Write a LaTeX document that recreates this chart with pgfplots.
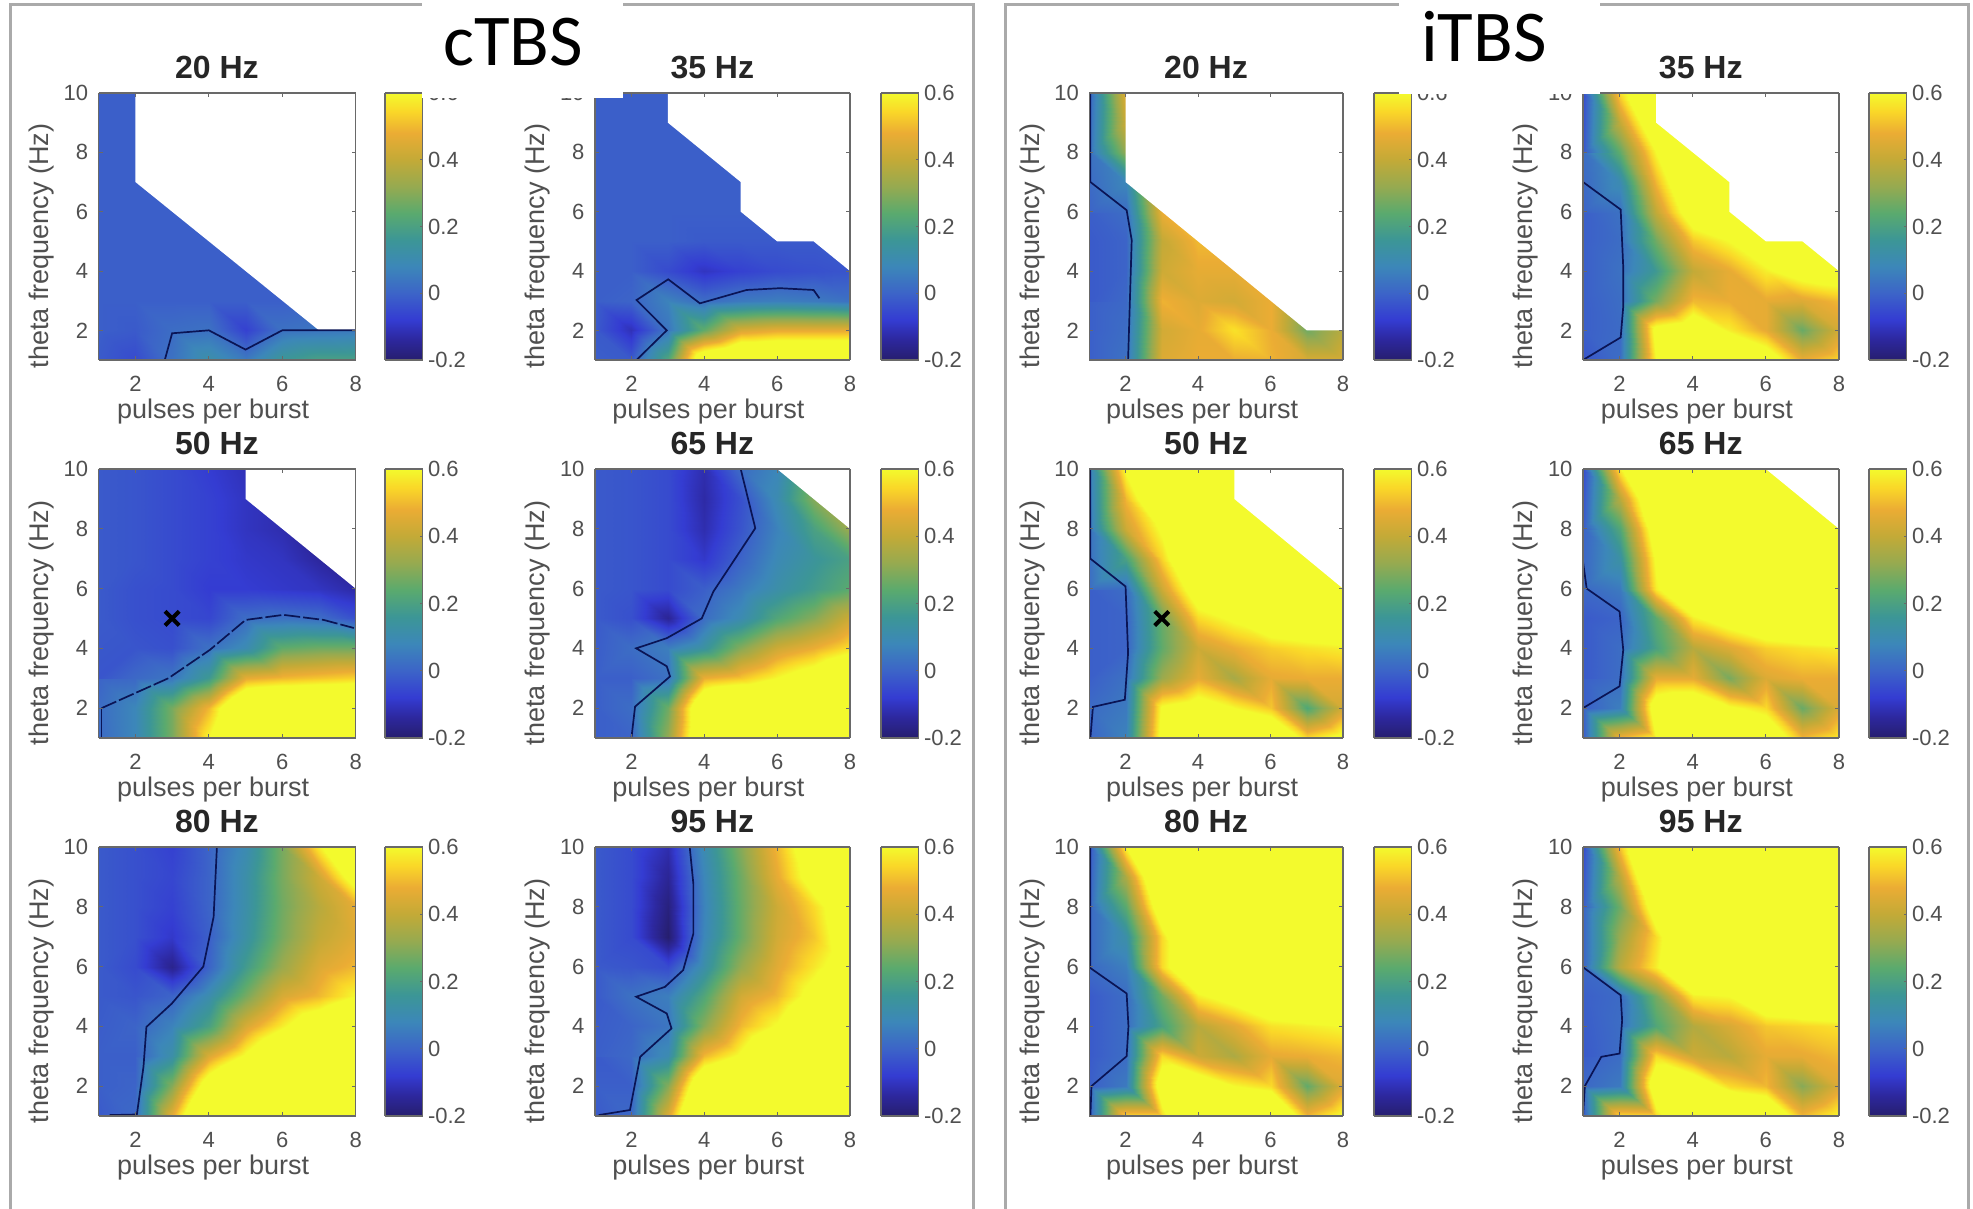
\documentclass[border=0pt]{standalone}
\usepackage{fontspec}
\setmainfont{Liberation Sans}
\newfontfamily\carlito{Carlito}
\usepackage{pgfplots}
\pgfplotsset{compat=1.18}
\definecolor{axgray}{RGB}{105,105,105}
\definecolor{txgray}{RGB}{80,80,80}
\definecolor{framegray}{RGB}{170,170,170}
\definecolor{ctr}{RGB}{10,20,85}
\pgfplotsset{
 /pgf/number format/assume math mode=true,
 colormap={par}{rgb255(0pt)=(38,30,110) rgb255(8pt)=(45,40,160) rgb255(15pt)=(52,60,210) rgb255(25pt)=(60,100,200) rgb255(35pt)=(60,135,185) rgb255(45pt)=(60,150,150) rgb255(55pt)=(90,170,110) rgb255(65pt)=(150,170,80) rgb255(75pt)=(195,170,55) rgb255(85pt)=(235,172,52) rgb255(93pt)=(250,215,40) rgb255(100pt)=(243,250,45) rgb255(150pt)=(243,250,45)},
 tbscommon/.style={
  scale only axis, view={0}{90},
  tick align=inside, tick style={axgray,line width=0.8pt},
  axis line style={axgray,line width=1.2pt}, axis on top,
  tick label style={font=\fontsize{22}{24}\selectfont,text=txgray},
  point meta min=-0.2, point meta max=1.0, colormap name=par,
 },
 tbs/.style={tbscommon,
  xmin=1,xmax=8,ymin=1,ymax=10,zmin=-1,zmax=2,
  xtick={2,4,6,8}, ytick={2,4,6,8,10}, ztick=\empty, major tick length=4pt,
  xticklabel style={yshift=-13pt}, yticklabel style={xshift=-7pt},
  xlabel={pulses per burst}, ylabel={theta frequency (Hz)},
  every axis x label/.style={at={(axis description cs:0.445,0)},anchor=center,yshift=-52pt,font=\fontsize{27}{30}\selectfont,text=txgray},
  every axis y label/.style={at={(axis description cs:0,0.427)},xshift=-57pt,rotate=90,anchor=center,font=\fontsize{27}{30}\selectfont,text=txgray},
  every axis title/.style={at={(axis description cs:0.46,1)},anchor=center,yshift=26pt,font=\fontsize{32}{36}\selectfont\bfseries,text=black!85},
 },
 tbsbar/.style={tbscommon,
  xmin=0,xmax=1,ymin=-0.2,ymax=0.6,zmin=-1,zmax=2,
  xtick=\empty, ytick={-0.2,0,0.2,0.4,0.6}, ztick=\empty, major tick length=3pt,
  ytick pos=right, yticklabel pos=right,
  yticklabel style={/pgf/number format/fixed,/pgf/number format/precision=1,xshift=2pt},
 },
}
% x0, ybottom, width, height, title, grid values y=1..10 / x=1..8, extras, colour bar x
\newcommand{\panel}[8]{%
\begin{axis}[tbs,at={(#1pt,#2pt)},anchor=south west,width=#3pt,height=#4pt,title={#5}]
\addplot3[surf,shader=interp,mesh/rows=10,mesh/cols=8] table[header=false,row sep=\\,x expr={int(mod(\coordindex,8))+1},y expr={int(\coordindex/8)+1},z index=0]{#6};
#7
\end{axis}
\begin{axis}[tbsbar,at={(#8pt,#2pt)},anchor=south west,width=37.5pt,height=#4pt]
\addplot3[surf,shader=interp,mesh/rows=2,mesh/cols=2] coordinates {(0,-0.2,-0.2)(1,-0.2,-0.2)(0,0.6,0.6)(1,0.6,0.6)};
\end{axis}}
\newcommand{\maskp}[1]{\addplot3[draw=none,fill=white,forget plot] coordinates {#1};}
\newcommand{\cont}[1]{\addplot3[ctr,line width=1.7pt,forget plot] coordinates {#1};}
\newcommand{\contd}[1]{\addplot3[ctr,line width=1.7pt,dash pattern=on 16pt off 3pt,forget plot] coordinates {#1};}
\newcommand{\xmk}{\addplot3[only marks,mark=x,mark size=10pt,mark options={line width=4pt,black},black,forget plot] coordinates {(3,5,1)};}
\begin{document}
\begin{tikzpicture}[x=1pt,y=1pt]
\fill[white] (0,0) rectangle (1973,1209);
\useasboundingbox (0,0) rectangle (1973,1209);
\draw[framegray,line width=3pt] (10,0)--(10,1204)--(973,1204)--(973,0);
\draw[framegray,line width=3pt] (1005,0)--(1005,1204)--(1968,1204)--(1968,0);
%%%%% cTBS
\panel{98.7}{849}{257}{267}{20 Hz}{%
-.02\\-.05\\.03\\.12\\.05\\.16\\.2\\.2\\
-.01\\-.02\\.02\\.03\\-.07\\.03\\.04\\.05\\
-.01\\-.01\\-.01\\-.01\\-.01\\-.01\\-.01\\-.01\\
-.01\\-.01\\-.01\\-.01\\-.01\\-.01\\-.01\\-.01\\
-.01\\-.01\\-.01\\-.01\\-.01\\-.01\\-.01\\-.01\\
-.01\\-.01\\-.01\\-.01\\-.01\\-.01\\-.01\\-.01\\
-.01\\-.01\\-.01\\-.01\\-.01\\-.01\\-.01\\-.01\\
-.01\\-.01\\-.01\\-.01\\-.01\\-.01\\-.01\\-.01\\
-.01\\-.01\\-.01\\-.01\\-.01\\-.01\\-.01\\-.01\\
-.01\\-.01\\-.01\\-.01\\-.01\\-.01\\-.01\\-.01\\
}{\maskp{(2,10,1)(2,7,1)(7,2,1)(8,2,1)(8,10,1)}
\cont{(2.8,1,1)(3,1.9,1)(4,2,1)(5,1.35,1)(6,2,1)(8,2,1)}}{385}
\panel{595}{849}{255}{267}{35 Hz}{%
-.01\\-.02\\.22\\.75\\.85\\.85\\.85\\.85\\
-.02\\-.11\\.04\\.25\\.44\\.47\\.47\\.47\\
-.01\\.0\\.07\\.02\\.05\\.06\\.05\\.03\\
-.01\\-.01\\-.05\\-.1\\-.07\\-.05\\-.04\\-.03\\
-.01\\-.01\\-.01\\-.02\\-.02\\-.02\\-.02\\-.02\\
-.01\\-.01\\-.01\\-.01\\-.01\\-.01\\-.01\\-.01\\
-.01\\-.01\\-.01\\-.01\\-.01\\-.01\\-.01\\-.01\\
-.01\\-.01\\-.01\\-.01\\-.01\\-.01\\-.01\\-.01\\
-.01\\-.01\\-.01\\-.01\\-.01\\-.01\\-.01\\-.01\\
-.01\\-.01\\-.01\\-.01\\-.01\\-.01\\-.01\\-.01\\
}{\maskp{(3,10,1)(3,9,1)(5,7,1)(5,6,1)(6,5,1)(7,5,1)(8,4,1)(8,10,1)}
\cont{(2.14,1,1)(2.97,2,1)(2.14,3.02,1)(3.01,3.72,1)(3.88,2.91,1)(5.16,3.36,1)(6.08,3.42,1)(7,3.36,1)(7.16,3.08,1)}}{881}
\panel{98.7}{471}{257}{269}{50 Hz}{%
.015\\.08\\.28\\.6\\.9\\.9\\.9\\.9\\
.02\\.08\\.28\\.5\\.85\\.9\\.9\\.9\\
.0\\.01\\.04\\.17\\.47\\.5\\.52\\.54\\
-.03\\-.03\\-.04\\.03\\.1\\.25\\.27\\.27\\
-.02\\-.04\\-.05\\-.06\\.02\\.03\\.02\\-.04\\
-.02\\-.04\\-.05\\-.08\\-.08\\-.09\\-.1\\-.13\\
-.02\\-.03\\-.05\\-.07\\-.09\\-.1\\-.14\\-.14\\
-.02\\-.03\\-.05\\-.07\\-.1\\-.12\\-.14\\-.14\\
-.02\\-.03\\-.05\\-.07\\-.1\\-.12\\-.14\\-.14\\
-.02\\-.03\\-.05\\-.08\\-.11\\-.12\\-.14\\-.14\\
}{\maskp{(5,10,1)(5,9,1)(8,6,1)(8,10,1)}
\cont{(1.08,1,1)(1.08,2,1)}
\contd{(1.08,2,1)(2.9,3,1)(4.03,3.95,1)(5,4.95,1)(6.03,5.12,1)(7.13,4.95,1)(7.95,4.68,1)}
\xmk}{385}
\panel{595}{471}{255}{269}{65 Hz}{%
-.01\\.0\\.32\\.8\\.9\\.9\\.9\\.9\\
-.01\\.02\\.27\\.8\\.9\\.9\\.9\\.9\\
-.01\\-.01\\.03\\.48\\.52\\.6\\.68\\.8\\
-.01\\.02\\.06\\.14\\.3\\.42\\.48\\.56\\
-.02\\-.04\\-.15\\.02\\.1\\.22\\.3\\.42\\
-.02\\-.03\\-.05\\-.01\\.05\\.12\\.18\\.24\\
-.02\\-.03\\-.05\\-.09\\.0\\.09\\.15\\.2\\
-.02\\-.03\\-.05\\-.12\\-.03\\.07\\.2\\.33\\
-.02\\-.03\\-.05\\-.13\\-.04\\.1\\.3\\.33\\
-.02\\-.03\\-.05\\-.12\\.02\\.08\\.3\\.33\\
}{\maskp{(6,10,1)(8,8,1)(8,10,1)}
\cont{(2,1,1)(2.1,2.05,1)(3.06,3.06,1)(2.97,3.4,1)(2.13,4,1)(2.97,4.34,1)(3.93,5,1)(4.25,5.9,1)(5.4,8.02,1)(5,10,1)}}{881}
\panel{98.7}{93}{257}{269}{80 Hz}{%
-.02\\.01\\.47\\.9\\.9\\.9\\.9\\.9\\
-.01\\.0\\.3\\.7\\.9\\.9\\.9\\.9\\
-.01\\-.01\\.12\\.45\\.62\\.8\\.9\\.9\\
-.01\\.0\\.07\\.2\\.44\\.58\\.72\\.85\\
-.02\\-.03\\.0\\.11\\.28\\.44\\.5\\.6\\
-.02\\-.05\\-.16\\.0\\.18\\.33\\.45\\.5\\
-.02\\-.04\\-.09\\-.01\\.13\\.28\\.4\\.46\\
-.02\\-.04\\-.07\\.0\\.12\\.27\\.38\\.47\\
-.02\\-.04\\-.06\\.0\\.12\\.28\\.42\\.68\\
-.02\\-.04\\-.07\\.0\\.1\\.28\\.58\\.8\\
}{\cont{(1.3,1.03,1)(2.04,1.05,1)(2.22,2.65,1)(2.3,3.98,1)(2.99,4.76,1)(3.85,6,1)(4.13,7.66,1)(4.22,10,1)}}{385}
\panel{595}{93}{255}{269}{95 Hz}{%
-.02\\.01\\.45\\.95\\.95\\.95\\.95\\.95\\
-.01\\-.01\\.3\\.8\\.9\\.9\\.9\\.9\\
-.02\\.01\\.1\\.5\\.62\\.8\\.9\\.9\\
-.01\\.0\\.04\\.3\\.5\\.61\\.8\\.9\\
-.02\\.03\\.06\\.22\\.43\\.5\\.65\\.8\\
-.02\\-.03\\-.05\\.12\\.32\\.46\\.57\\.68\\
-.02\\-.05\\-.2\\.08\\.26\\.43\\.52\\.7\\
-.02\\-.05\\-.18\\.07\\.26\\.42\\.55\\.72\\
-.02\\-.05\\-.15\\.08\\.27\\.47\\.67\\.8\\
-.02\\-.05\\-.12\\.1\\.3\\.5\\.72\\.85\\
}{\cont{(1.1,1.03,1)(1.96,1.2,1)(2.24,2.98,1)(3.1,3.93,1)(2.97,4.43,1)(2.13,4.99,1)(2.92,5.32,1)(3.42,5.88,1)(3.7,7.1,1)(3.7,8.77,1)(3.6,10,1)}}{881}
%%%%% iTBS
\panel{1089.3}{849}{253.7}{267}{20 Hz}{%
-.01\\.03\\.45\\.48\\.48\\.49\\.44\\.44\\
-.01\\.02\\.43\\.47\\.56\\.48\\.27\\.38\\
-.01\\.01\\.49\\.45\\.43\\.48\\.55\\.5\\
-.02\\.0\\.42\\.47\\.47\\.65\\.55\\.5\\
-.02\\.0\\.4\\.5\\.62\\.65\\.55\\.5\\
-.01\\.02\\.48\\.65\\.65\\.55\\.5\\.5\\
.0\\.08\\.55\\.55\\.5\\.5\\.5\\.5\\
.03\\.32\\.45\\.5\\.5\\.5\\.5\\.5\\
.02\\.42\\.4\\.5\\.5\\.5\\.5\\.5\\
.0\\.46\\.4\\.5\\.5\\.5\\.5\\.5\\
}{\maskp{(2,10,1)(2,7,1)(7,2,1)(8,2,1)(8,10,1)}
\cont{(1.03,10,1)(1.03,7,1)(2.03,6.05,1)(2.17,5.04,1)(2.07,1,1)}}{1374}
\panel{1583}{849}{256}{267}{35 Hz}{%
-.03\\.02\\.6\\.8\\.85\\.7\\.48\\.55\\
-.01\\.015\\.65\\.72\\.58\\.47\\.26\\.43\\
-.01\\.02\\.28\\.5\\.48\\.47\\.45\\.5\\
-.01\\.03\\.17\\.4\\.47\\.58\\.67\\.7\\
-.01\\.02\\.27\\.52\\.6\\.72\\.8\\.8\\
-.01\\.03\\.4\\.7\\.85\\.85\\.85\\.85\\
.0\\.1\\.5\\.8\\.85\\.85\\.85\\.85\\
.02\\.25\\.6\\.85\\.85\\.85\\.85\\.85\\
-.03\\.4\\.75\\.85\\.85\\.85\\.85\\.85\\
-.05\\.55\\.8\\.85\\.85\\.85\\.85\\.85\\
}{\maskp{(3,10,1)(3,9,1)(5,7,1)(5,6,1)(6,5,1)(7,5,1)(8,4,1)(8,10,1)}
\cont{(1,10,1)(1,7,1)(2.03,6.07,1)(2.1,4.13,1)(2.1,2.8,1)(2.03,1.76,1)(1,1,1)}}{1869}
\panel{1089.3}{471}{253.7}{269}{50 Hz}{%
.0\\.07\\.65\\.85\\.9\\.8\\.55\\.65\\
.015\\.05\\.62\\.68\\.6\\.52\\.22\\.43\\
-.01\\.03\\.33\\.47\\.35\\.47\\.48\\.48\\
-.01\\.0\\.25\\.42\\.48\\.53\\.56\\.58\\
-.01\\.0\\.26\\.55\\.62\\.72\\.75\\.8\\
-.01\\.02\\.42\\.7\\.85\\.85\\.85\\.85\\
.02\\.2\\.54\\.85\\.85\\.85\\.85\\.85\\
.03\\.42\\.62\\.9\\.9\\.9\\.9\\.9\\
.03\\.5\\.8\\.9\\.9\\.9\\.9\\.9\\
.05\\.62\\.85\\.9\\.9\\.9\\.9\\.9\\
}{\maskp{(5,10,1)(5,9,1)(8,6,1)(8,10,1)}
\cont{(1.03,10,1)(1.03,7,1)(2,6.07,1)(2.07,3.84,1)(1.98,2.28,1)(1.1,2.04,1)(1.03,1,1)}
\xmk}{1374}
\panel{1583}{471}{256}{269}{65 Hz}{%
-.02\\.5\\.6\\.85\\.85\\.75\\.5\\.58\\
-.01\\.06\\.7\\.75\\.62\\.55\\.26\\.45\\
-.01\\.02\\.47\\.47\\.28\\.45\\.48\\.48\\
-.02\\.02\\.2\\.38\\.45\\.53\\.56\\.58\\
-.02\\.0\\.24\\.58\\.68\\.78\\.82\\.85\\
.01\\.05\\.58\\.8\\.9\\.9\\.9\\.9\\
.01\\.13\\.62\\.8\\.9\\.9\\.9\\.9\\
.0\\.22\\.7\\.8\\.9\\.9\\.9\\.9\\
-.02\\.38\\.8\\.85\\.9\\.9\\.9\\.9\\
-.05\\.58\\.85\\.9\\.9\\.9\\.9\\.9\\
}{\maskp{(6,10,1)(8,8,1)(8,10,1)}
\cont{(1,10,1)(1,6.9,1)(1.1,6,1)(2,5.23,1)(2.1,3.95,1)(2,2.73,1)(1,2,1)}}{1869}
\panel{1089.3}{93}{253.7}{269}{80 Hz}{%
-.02\\.55\\.55\\.9\\.9\\.85\\.5\\.62\\
-.01\\.05\\.7\\.72\\.6\\.55\\.25\\.45\\
-.02\\.02\\.55\\.42\\.36\\.47\\.48\\.5\\
-.02\\.02\\.2\\.38\\.46\\.56\\.58\\.6\\
-.02\\.02\\.27\\.58\\.66\\.75\\.8\\.85\\
.015\\.06\\.55\\.8\\.9\\.9\\.9\\.9\\
.01\\.12\\.55\\.9\\.9\\.9\\.9\\.9\\
.01\\.24\\.72\\.9\\.9\\.9\\.9\\.9\\
.0\\.36\\.85\\.9\\.9\\.9\\.9\\.9\\
-.03\\.6\\.9\\.9\\.9\\.9\\.9\\.9\\
}{\cont{(1.03,10,1)(1.03,5.95,1)(2.03,5.1,1)(2.08,4,1)(2.03,3,1)(1.06,2,1)(1.03,1,1)}}{1374}
\panel{1583}{93}{256}{269}{95 Hz}{%
-.02\\.56\\.55\\.8\\.9\\.8\\.5\\.6\\
.01\\.05\\.72\\.72\\.55\\.5\\.3\\.45\\
-.015\\.02\\.55\\.42\\.38\\.47\\.47\\.5\\
-.02\\.02\\.22\\.37\\.44\\.52\\.54\\.56\\
-.01\\.015\\.28\\.58\\.6\\.75\\.8\\.85\\
.01\\.38\\.58\\.85\\.9\\.9\\.9\\.9\\
.0\\.33\\.55\\.85\\.9\\.9\\.9\\.9\\
.0\\.27\\.7\\.9\\.9\\.9\\.9\\.9\\
-.02\\.38\\.85\\.9\\.9\\.9\\.9\\.9\\
-.05\\.52\\.9\\.9\\.9\\.9\\.9\\.9\\
}{\cont{(1,10,1)(1,5.98,1)(2.03,5.04,1)(2.07,4.2,1)(2,3.09,1)(1.5,2.98,1)(1.05,2,1)(1,1,1)}}{1869}
%%%%% masks and headers
\fill[white] (422,1209) rectangle (623,1111.3);
\fill[white] (1399,1209) rectangle (1600,1115);
\node[anchor=base west,inner sep=0pt] at (443,1143) {\carlito\fontsize{73}{80}\selectfont cTBS};
\node[anchor=base west,inner sep=0pt] at (1421,1147) {\carlito\fontsize{73}{80}\selectfont iTBS};
\end{tikzpicture}
\end{document}
